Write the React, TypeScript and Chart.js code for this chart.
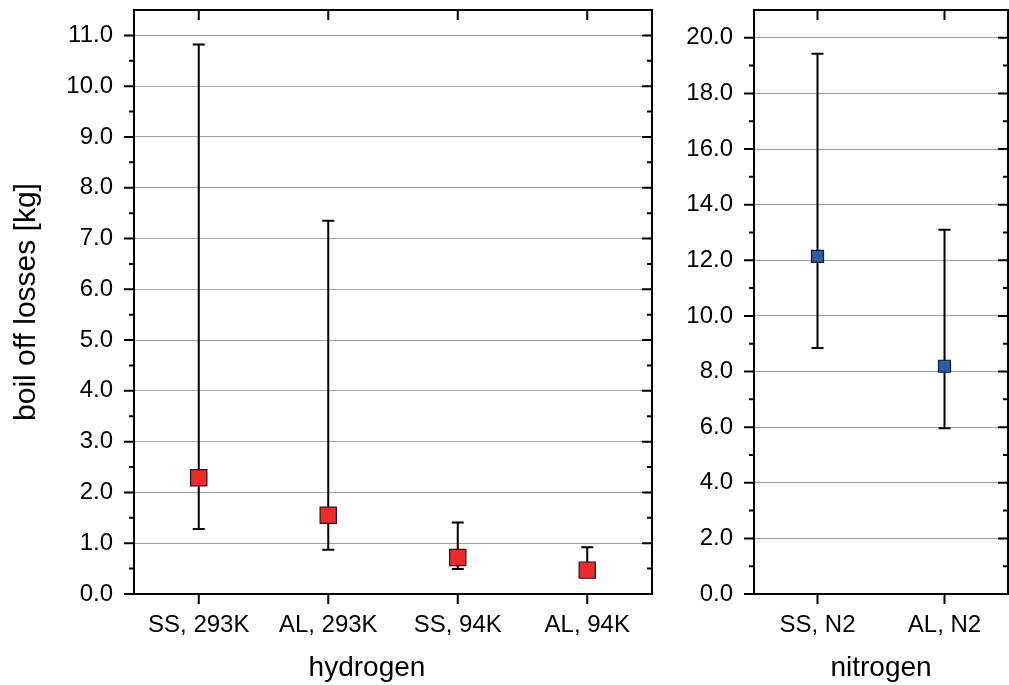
import React, { useEffect, useRef } from 'react';
import { Chart, registerables } from 'chart.js';

Chart.register(...registerables);

const FONT = "'Liberation Sans', Arial, Helvetica, sans-serif";

// ---- data ----
const H2_CATEGORIES = ['SS, 293K', 'AL, 293K', 'SS, 94K', 'AL, 94K'];
const H2_VALUES = [2.29, 1.55, 0.72, 0.47];
const H2_ERR_LOW = [1.28, 0.87, 0.49, 0.38];
const H2_ERR_HIGH = [10.82, 7.35, 1.41, 0.92];

const N2_CATEGORIES = ['SS, N2', 'AL, N2'];
const N2_VALUES = [12.14, 8.19];
const N2_ERR_LOW = [8.85, 5.96];
const N2_ERR_HIGH = [19.43, 13.1];

const H2_Y_MAX = 11.5;
const H2_Y_STEP = 1;
const N2_Y_MAX = 21;
const N2_Y_STEP = 2;

const Y_TITLE = 'boil off losses [kg]';
const H2_TITLE = 'hydrogen';
const N2_TITLE = 'nitrogen';

const RED = '#ee2b2b';
const BLUE = '#2a5caa';

function makeErrorBars(low: number[], high: number[], capWidth: number) {
  return {
    id: 'errorBars',
    beforeDatasetsDraw(chart: any) {
      const { ctx } = chart;
      const x = chart.scales.x;
      const y = chart.scales.y;
      ctx.save();
      ctx.strokeStyle = '#000';
      ctx.lineWidth = 2;
      ctx.lineCap = 'butt';
      low.forEach((lo, i) => {
        const hi = high[i];
        const px = x.getPixelForValue(i);
        const yl = y.getPixelForValue(lo);
        const yh = y.getPixelForValue(hi);
        const hw = capWidth / 2;
        ctx.beginPath();
        ctx.moveTo(px, yl);
        ctx.lineTo(px, yh);
        ctx.moveTo(px - hw, yl);
        ctx.lineTo(px + hw, yl);
        ctx.moveTo(px - hw, yh);
        ctx.lineTo(px + hw, yh);
        ctx.stroke();
      });
      ctx.restore();
    },
  };
}

function makeFrame() {
  return {
    id: 'frameTicks',
    afterDraw(chart: any) {
      const { ctx, chartArea: a } = chart;
      const x = chart.scales.x;
      const y = chart.scales.y;
      const MAJOR = 10;
      const MINOR = 5;
      ctx.save();
      ctx.strokeStyle = '#000';
      ctx.lineWidth = 2;
      ctx.lineCap = 'butt';
      ctx.beginPath();
      const vals: number[] = y.ticks.map((t: any) => t.value);
      vals.forEach((v) => {
        const py = y.getPixelForValue(v);
        ctx.moveTo(a.left - MAJOR, py);
        ctx.lineTo(a.left, py);
        ctx.moveTo(a.right, py);
        ctx.lineTo(a.right - MAJOR, py);
      });
      const minors: number[] = [];
      for (let i = 0; i < vals.length - 1; i++) minors.push((vals[i] + vals[i + 1]) / 2);
      if (vals.length > 1) {
        const step = vals[1] - vals[0];
        const extra = vals[vals.length - 1] + step / 2;
        if (extra < y.max - 1e-9) minors.push(extra);
      }
      minors.forEach((v) => {
        const py = y.getPixelForValue(v);
        ctx.moveTo(a.left - MINOR, py);
        ctx.lineTo(a.left, py);
        ctx.moveTo(a.right, py);
        ctx.lineTo(a.right - MINOR, py);
      });
      x.ticks.forEach((_t: any, i: number) => {
        const px = x.getPixelForTick(i);
        ctx.moveTo(px, a.bottom);
        ctx.lineTo(px, a.bottom + MAJOR);
        ctx.moveTo(px, a.top);
        ctx.lineTo(px, a.top + MAJOR);
      });
      ctx.stroke();
      ctx.strokeRect(a.left, a.top, a.right - a.left, a.bottom - a.top);
      ctx.restore();
    },
  };
}

function zeroPad(s: any) {
  s.paddingTop = 0;
  s.paddingBottom = 0;
  s.paddingLeft = 0;
  s.paddingRight = 0;
}

interface PanelOpts {
  labels: string[];
  values: number[];
  low: number[];
  high: number[];
  yMax: number;
  yStep: number;
  color: string;
  radius: number;
  cap: number;
  title: string;
  titleFullSize: boolean;
  yTitle?: string;
  yAxisWidth: number;
  padLeft: number;
  padRight: number;
  spacerWidth?: number;
}

function buildConfig(o: PanelOpts): any {
  const scales: any = {
    x: {
      type: 'category',
      offset: true,
      grid: { display: false, drawTicks: false, offset: false },
      border: { display: false },
      ticks: {
        color: '#000',
        padding: 17,
        autoSkip: false,
        maxRotation: 0,
        font: { family: FONT, size: 24 },
      },
      afterFit(s: any) {
        s.height = 57.4;
        zeroPad(s);
      },
    },
    y: {
      type: 'linear',
      position: 'left',
      min: 0,
      max: o.yMax,
      grid: { display: true, drawTicks: false, color: '#a0a0a0', lineWidth: 1 },
      border: { display: false },
      ticks: {
        stepSize: o.yStep,
        includeBounds: false,
        autoSkip: false,
        color: '#000',
        padding: 21,
        font: { family: FONT, size: 24 },
        callback: (v: any) => Number(v).toFixed(1),
      },
      title: o.yTitle
        ? {
            display: true,
            text: o.yTitle,
            color: '#000',
            font: { family: FONT, size: 30 },
            padding: { top: 9, bottom: 0 },
          }
        : { display: false },
      afterFit(s: any) {
        s.width = o.yAxisWidth;
        zeroPad(s);
      },
    },
  };
  if (o.spacerWidth) {
    scales.spacer = {
      type: 'linear',
      position: 'right',
      display: true,
      grid: { display: false, drawTicks: false },
      border: { display: false },
      ticks: { display: false },
      title: { display: false },
      afterFit(s: any) {
        s.width = o.spacerWidth;
        zeroPad(s);
      },
    };
  }
  return {
    type: 'line',
    data: {
      labels: o.labels,
      datasets: [
        {
          data: o.values,
          showLine: false,
          pointStyle: 'rect',
          pointRadius: o.radius,
          pointHoverRadius: o.radius,
          pointBackgroundColor: o.color,
          pointBorderColor: '#1a1a1a',
          pointBorderWidth: 1.2,
          clip: false,
        },
      ],
    },
    options: {
      responsive: false,
      animation: false,
      devicePixelRatio: 1,
      events: [],
      layout: {
        autoPadding: false,
        padding: { top: 10, left: o.padLeft, right: o.padRight, bottom: 0 },
      },
      plugins: {
        legend: { display: false },
        tooltip: { enabled: false },
        title: {
          display: true,
          text: o.title,
          position: 'bottom',
          fullSize: o.titleFullSize,
          color: '#000',
          font: { family: FONT, size: 28, weight: 'normal', lineHeight: 1.2 },
          padding: { top: 0, bottom: 0 },
        },
      },
      scales,
    },
    plugins: [makeErrorBars(o.low, o.high, o.cap), makeFrame()],
  };
}

export default function App() {
  const leftRef = useRef<HTMLCanvasElement>(null);
  const rightRef = useRef<HTMLCanvasElement>(null);

  useEffect(() => {
    const c1 = new Chart(
      leftRef.current as HTMLCanvasElement,
      buildConfig({
        labels: H2_CATEGORIES,
        values: H2_VALUES,
        low: H2_ERR_LOW,
        high: H2_ERR_HIGH,
        yMax: H2_Y_MAX,
        yStep: H2_Y_STEP,
        color: RED,
        radius: 11.5,
        cap: 12,
        title: H2_TITLE,
        titleFullSize: true,
        yTitle: Y_TITLE,
        yAxisWidth: 134,
        padLeft: 0,
        padRight: 0,
        spacerWidth: 82,
      })
    );
    const c2 = new Chart(
      rightRef.current as HTMLCanvasElement,
      buildConfig({
        labels: N2_CATEGORIES,
        values: N2_VALUES,
        low: N2_ERR_LOW,
        high: N2_ERR_HIGH,
        yMax: N2_Y_MAX,
        yStep: N2_Y_STEP,
        color: BLUE,
        radius: 8.5,
        cap: 12,
        title: N2_TITLE,
        titleFullSize: false,
        yAxisWidth: 74,
        padLeft: 0,
        padRight: 1,
      })
    );
    return () => {
      c1.destroy();
      c2.destroy();
    };
  }, []);

  return (
    <div style={{ position: 'absolute', left: 0, top: 0, width: 1009, height: 685, background: '#fff' }}>
      <canvas
        ref={leftRef}
        width={734}
        height={685}
        style={{ position: 'absolute', left: 0, top: 0, width: 734, height: 685 }}
      />
      <canvas
        ref={rightRef}
        width={329}
        height={685}
        style={{ position: 'absolute', left: 680, top: 0, width: 329, height: 685 }}
      />
    </div>
  );
}
